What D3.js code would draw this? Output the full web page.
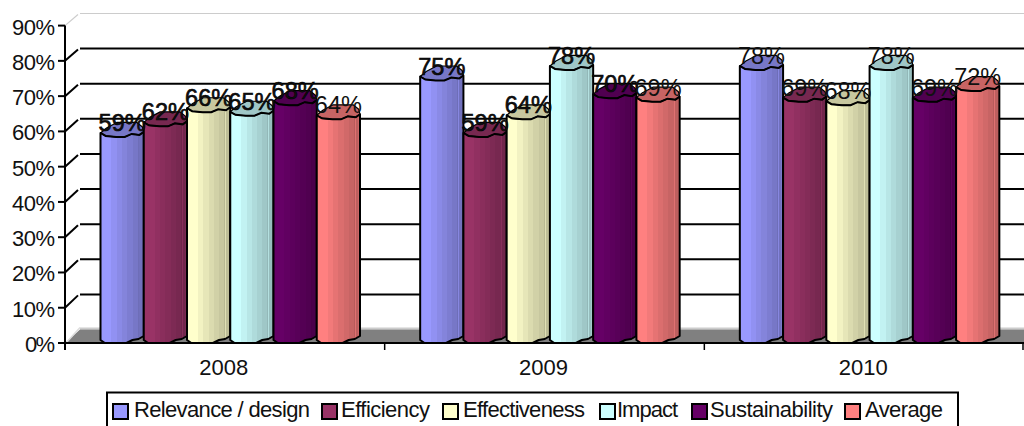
<!DOCTYPE html>
<html><head><meta charset="utf-8">
<script src="https://cdn.jsdelivr.net/npm/d3@7/dist/d3.min.js"></script>
<style>html,body{margin:0;padding:0;background:#fff;overflow:hidden}svg{display:block}text{font-family:"Liberation Sans",Arial,sans-serif;fill:#111}</style>
</head><body><div id="c"></div>
<script>
const years = ["2008","2009","2010"];
const seriesNames = ["Relevance / design","Efficiency","Effectiveness","Impact","Sustainability","Average"];
const seriesColors = ["#9999FF","#993366","#FFFFCC","#CCFFFF","#660066","#FF8080"];
const relevance = [59,75,78];
const efficiency = [62,59,69];
const effectiveness = [66,64,68];
const impact = [65,78,78];
const sustainability = [68,70,69];
const average = [64,69,72];
const seriesValues = [relevance,efficiency,effectiveness,impact,sustainability,average];
const yTicks = [0,10,20,30,40,50,60,70,80,90];
const legendSwatchX = [113,322,443,600,692,845];
const legendTextX = [134,341,463,617,710,865];
const legendTextW = [176,89,122,61,123,78];

const W=1024,H=426;
const svg=d3.select("#c").append("svg").attr("width",W).attr("height",H);
const y=d3.scaleLinear().domain([0,90]).range([343,25.6]);
const yBack=d3.scaleLinear().domain([0,90]).range([329.5,13.5]);
const x0=d3.scaleBand().domain(years).range([65,1024]);
const x1=d3.scaleBand().domain(d3.range(6)).range([35.5,295]);
const backX=80, frontX=65;

// facet gradients
const defs=svg.append("defs");
const facets=[[0,1],[.25,.95],[.38,.9],[.5,.86],[.62,.82],[.74,.78],[.86,.72],[.88,.88],[.9,.74],[.96,.8],[1,.68]];
seriesColors.forEach((c,i)=>{
  const g=defs.append("linearGradient").attr("id","g"+i);
  facets.forEach((f,k)=>{
    const col=d3.rgb(c); const s=d3.rgb(col.r*f[1],col.g*f[1],col.b*f[1]);
    g.append("stop").attr("offset",f[0]).attr("stop-color",s);
    if(k<facets.length-1) g.append("stop").attr("offset",facets[k+1][0]).attr("stop-color",s);
  });
});

// walls and floor
svg.append("line").attr("x1",backX).attr("x2",W).attr("y1",yBack(0)-1).attr("y2",yBack(0)-1).attr("stroke","#ccc").attr("stroke-width",2);
svg.append("polygon").attr("points",`${frontX},${y(0)} ${backX},${yBack(0)} ${W},${yBack(0)} ${W},${y(0)}`).attr("fill","#808080");
svg.append("line").attr("x1",frontX+1).attr("x2",backX).attr("y1",y(0)).attr("y2",yBack(0)-2).attr("stroke","#ddd").attr("stroke-width",1.5);

yTicks.slice(1).forEach(t=>{
  const top=t===90;
  svg.append("line").attr("x1",backX).attr("x2",W).attr("y1",yBack(t)).attr("y2",yBack(t)).attr("stroke",top?"#ccc":"#000").attr("stroke-width",top?1.2:2);
  svg.append("line").attr("x1",frontX).attr("y1",y(t)).attr("x2",backX-2).attr("y2",yBack(t)+1).attr("stroke",top?"#ccc":"#000").attr("stroke-width",top?1.2:2);
});

// bars
const layer=svg.append("g");
const line=d3.line().x(d=>d[0]).y(d=>d[1]);
years.forEach((yr,gi)=>{
  seriesValues.forEach((vals,si)=>{
    const v=vals[gi], X=x0(yr)+x1(si), w=x1.bandwidth(), T=y(v), B=y(0);
    const px=f=>X+f*w;
    const bodyPts=[[0,T-2],[0,B-3],[.1,B],[.6,B],[.74,B-3],[.88,B-4],[1,B-7],[1,T-3]].map(d=>[px(d[0]),d[1]]);
    layer.append("path").attr("d",line(bodyPts)+"Z").attr("fill",`url(#g${si})`).attr("stroke","#000").attr("stroke-width",2).attr("stroke-linejoin","round");
    const topPts=[[0,-2],[.12,1],[.36,2],[.56,2],[.72,-1],[.9,0],[1,-3],[.97,-8],[.84,-12.5],[.38,-12.5],[.14,-7]].map(d=>[px(d[0]),T+d[1]]);
    const tc=d3.rgb(seriesColors[si]);
    layer.append("path").attr("d",line(topPts)+"Z").attr("fill",d3.rgb(tc.r*.78,tc.g*.78,tc.b*.78)).attr("stroke","#000").attr("stroke-width",1.2).attr("stroke-linejoin","round");
    layer.append("path").attr("d",line(topPts.slice(0,7))).attr("fill","none").attr("stroke","#000").attr("stroke-width",2);
  });
});

// value labels
years.forEach((yr,gi)=>{
  seriesValues.forEach((vals,si)=>{
    const v=vals[gi];
    const heavy=gi<2&&si<5;
    svg.append("text").attr("x",x0(yr)+x1(si)+x1.bandwidth()/2).attr("y",y(v)-4)
      .attr("text-anchor","middle").attr("font-size",23.5)
      .attr("stroke",heavy?"#000":"none").attr("stroke-width",heavy?.6:0)
      .text(v+"%");
  });
});

// axes
svg.append("line").attr("x1",frontX).attr("x2",frontX).attr("y1",y(90)).attr("y2",350).attr("stroke","#000").attr("stroke-width",2);
svg.append("line").attr("x1",frontX-1).attr("x2",W).attr("y1",y(0)).attr("y2",y(0)).attr("stroke","#000").attr("stroke-width",2);
yTicks.forEach(t=>{
  svg.append("line").attr("x1",58).attr("x2",frontX).attr("y1",y(t)).attr("y2",y(t)).attr("stroke","#000").attr("stroke-width",2);
  svg.append("text").attr("x",55).attr("y",y(t)+9).attr("text-anchor","end").attr("font-size",22).attr("textLength",t?43:30).text(t+"%");
});
[...years.map(d=>x0(d)),x0(years[2])+x0.bandwidth()-1].forEach(px=>{
  svg.append("line").attr("x1",px).attr("x2",px).attr("y1",y(0)).attr("y2",350).attr("stroke","#000").attr("stroke-width",1.5);
});
years.forEach(yr=>{
  svg.append("text").attr("x",x0(yr)+x0.bandwidth()/2-1).attr("y",375).attr("text-anchor","middle").attr("font-size",22).text(yr);
});

// legend
svg.append("rect").attr("x",107).attr("y",392.5).attr("width",851).attr("height",40).attr("fill","#fff").attr("stroke","#000").attr("stroke-width",2);
seriesNames.forEach((n,i)=>{
  const sx=legendSwatchX[i];
  svg.append("rect").attr("x",sx).attr("y",404).attr("width",15).attr("height",15).attr("fill",seriesColors[i]).attr("stroke","#000").attr("stroke-width",2);
  svg.append("text").attr("x",legendTextX[i]).attr("y",417).attr("font-size",22).attr("textLength",legendTextW[i]).text(n);
});
</script></body></html>
